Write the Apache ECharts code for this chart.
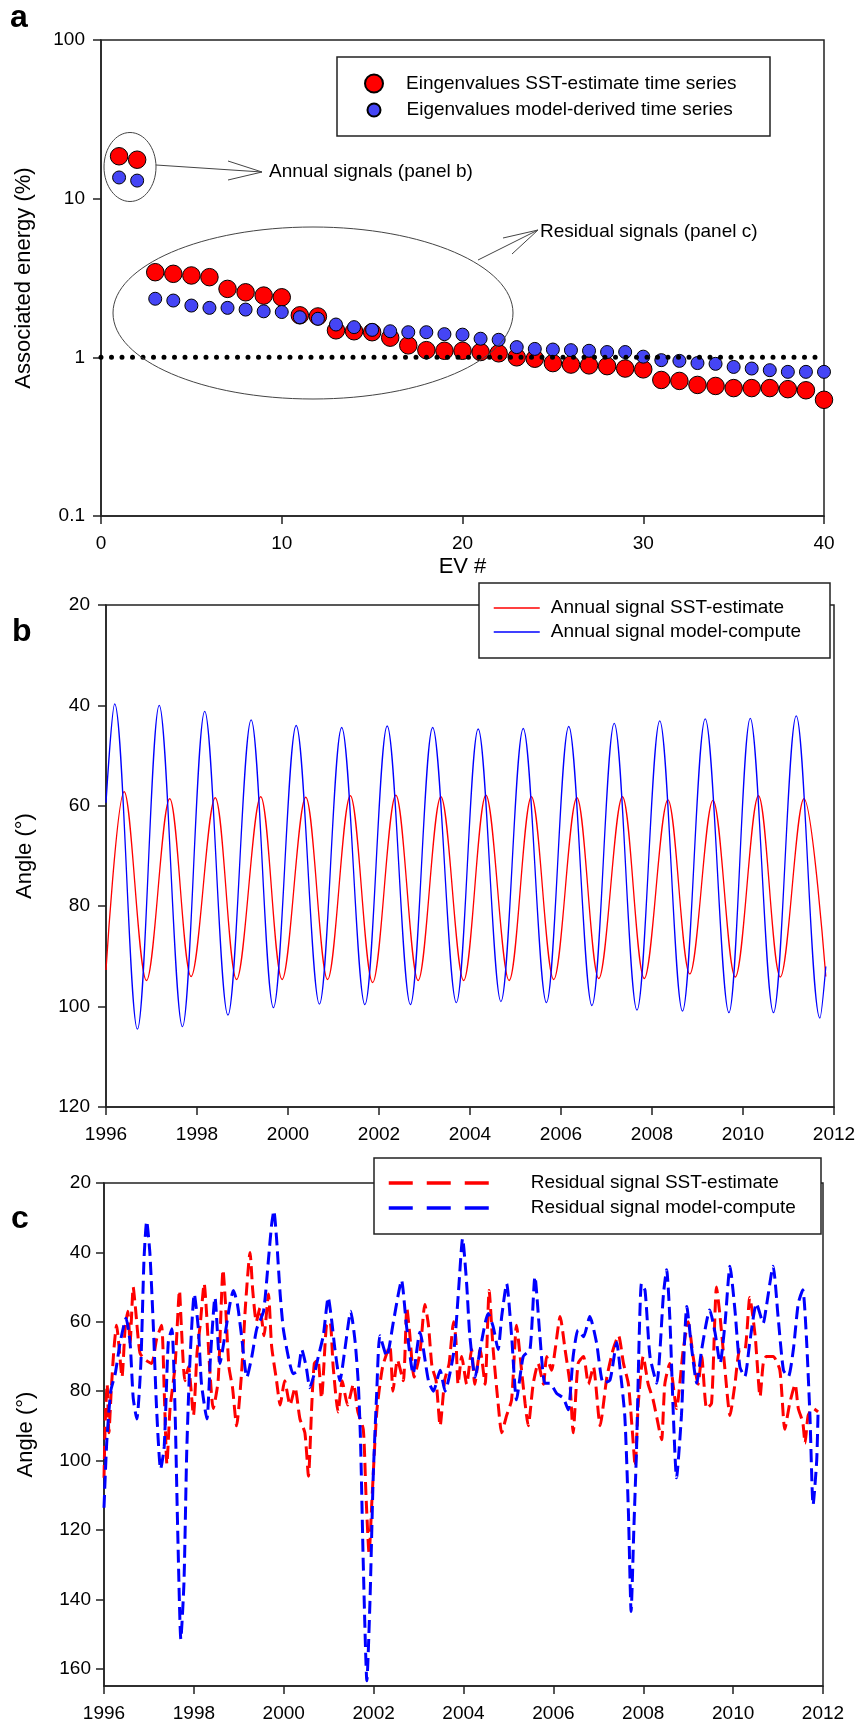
<!DOCTYPE html>
<html>
<head>
<meta charset="utf-8">
<title>Eigenvalues, annual and residual signals</title>
<script src="https://cdn.jsdelivr.net/npm/echarts@6.0.0/dist/echarts.min.js"></script>
<style>
  html, body { margin: 0; padding: 0; background: #fff; }
  #chart { width: 860px; height: 1726px; }
</style>
</head>
<body>
<div id="chart"></div>
<script>
// ---- panel a : eigenvalues (associated energy, %) ----
var evNumber = [1, 2, 3, 4, 5, 6, 7, 8, 9, 10, 11, 12, 13, 14, 15, 16, 17, 18, 19, 20,
  21, 22, 23, 24, 25, 26, 27, 28, 29, 30, 31, 32, 33, 34, 35, 36, 37, 38, 39, 40];
var sstEigen = [18.5, 17.6, 3.44, 3.36, 3.28, 3.2, 2.7, 2.57, 2.45, 2.39, 1.84, 1.81, 1.48, 1.46, 1.44,
  1.33, 1.19, 1.11, 1.1, 1.1, 1.08, 1.06, 1.0, 0.98, 0.92, 0.9, 0.89, 0.88, 0.85, 0.84,
  0.72, 0.71, 0.67, 0.66, 0.64, 0.64, 0.64, 0.63, 0.62, 0.54];
var modelEigen = [13.6, 13.0, 2.34, 2.28, 2.12, 2.05, 2.05, 2.0, 1.95, 1.93, 1.79, 1.75, 1.61, 1.55, 1.49,
  1.46, 1.44, 1.44, 1.4, 1.39, 1.31, 1.29, 1.16, 1.13, 1.12, 1.11, 1.1, 1.08, 1.08, 1.01,
  0.96, 0.95, 0.92, 0.91, 0.87, 0.85, 0.83, 0.81, 0.81, 0.81];
var unitLevel = [[0, 1], [40, 1]];

// ---- panel b : annual signals, turning points [year, angle] ----
var sstAnnual = [[1996.0, 92.7], [1996.40, 57.2], [1996.89, 94.8], [1997.40, 58.6], [1997.87, 94.0],
  [1998.40, 58.4], [1998.87, 94.6], [1999.40, 58.2], [1999.87, 94.6], [2000.39, 58.3], [2000.87, 94.6],
  [2001.37, 58.0], [2001.86, 95.2], [2002.37, 57.9], [2002.86, 94.8], [2003.36, 58.2], [2003.86, 94.8],
  [2004.35, 57.9], [2004.86, 94.8], [2005.35, 58.2], [2005.84, 94.6], [2006.35, 58.4], [2006.83, 94.4],
  [2007.35, 58.2], [2007.83, 94.4], [2008.35, 58.8], [2008.83, 93.5], [2009.34, 58.9], [2009.83, 94.1],
  [2010.34, 58.0], [2010.82, 94.1], [2011.34, 58.6], [2011.82, 94.0]];
var modelAnnual = [[1996.0, 59.4], [1996.19, 39.7], [1996.69, 104.5], [1997.17, 40.0], [1997.68, 104.0],
  [1998.17, 41.2], [1998.68, 101.7], [1999.19, 42.9], [1999.68, 100.2], [2000.18, 44.0], [2000.69, 99.5],
  [2001.18, 44.4], [2001.69, 99.6], [2002.18, 44.1], [2002.69, 99.6], [2003.18, 44.4], [2003.70, 99.2],
  [2004.18, 44.7], [2004.68, 99.0], [2005.17, 44.6], [2005.68, 99.2], [2006.17, 44.2], [2006.68, 99.8],
  [2007.17, 43.6], [2007.67, 100.7], [2008.17, 43.1], [2008.67, 100.9], [2009.17, 42.7], [2009.69, 101.2],
  [2010.16, 42.6], [2010.67, 101.2], [2011.17, 42.1], [2011.69, 102.3], [2011.82, 92.0]];

// ---- panel c : residual signals [year, angle] ----
var sstResidual = [[1996.00, 105], [1996.03, 88], [1996.07, 78], [1996.11, 92], [1996.16, 80], [1996.22, 68],
  [1996.28, 61], [1996.34, 68], [1996.40, 76], [1996.47, 62], [1996.53, 57], [1996.58, 66], [1996.65, 50],
  [1996.70, 56], [1996.80, 69], [1996.92, 71], [1997.06, 72], [1997.17, 65], [1997.28, 61], [1997.34, 80],
  [1997.40, 101], [1997.47, 85], [1997.58, 73], [1997.68, 51], [1997.72, 61], [1997.80, 77], [1997.88, 73],
  [1997.99, 87], [1998.07, 69], [1998.14, 61], [1998.23, 49], [1998.28, 57], [1998.35, 73], [1998.43, 85],
  [1998.54, 77], [1998.65, 45], [1998.70, 54], [1998.78, 73], [1998.86, 79], [1998.95, 90], [1999.06, 75],
  [1999.15, 55], [1999.25, 40], [1999.31, 51], [1999.39, 60], [1999.47, 56], [1999.56, 64], [1999.66, 52],
  [1999.73, 67], [1999.84, 77], [1999.92, 84], [2000.02, 77], [2000.14, 84], [2000.25, 79], [2000.36, 88],
  [2000.47, 92], [2000.55, 104.5], [2000.62, 85], [2000.68, 72], [2000.76, 71], [2000.84, 82], [2000.95, 61],
  [2001.03, 60], [2001.10, 73], [2001.21, 86], [2001.30, 77], [2001.42, 84], [2001.55, 78], [2001.65, 86],
  [2001.77, 91], [2001.83, 110], [2001.90, 127], [2001.96, 112], [2002.07, 86], [2002.20, 73], [2002.36, 67],
  [2002.43, 80], [2002.53, 71], [2002.66, 77], [2002.74, 56], [2002.80, 63], [2002.90, 76], [2003.03, 69],
  [2003.14, 55], [2003.22, 61], [2003.30, 73], [2003.39, 77], [2003.48, 90], [2003.58, 77], [2003.68, 72],
  [2003.78, 60], [2003.83, 65], [2003.88, 78], [2003.96, 70], [2004.07, 78], [2004.18, 68], [2004.25, 78],
  [2004.37, 68], [2004.48, 78], [2004.57, 51], [2004.66, 68], [2004.77, 83.5], [2004.85, 92], [2004.96, 87],
  [2005.07, 82.5], [2005.18, 61], [2005.26, 70], [2005.37, 83.5], [2005.44, 90], [2005.55, 78], [2005.66, 72],
  [2005.78, 78], [2005.85, 70], [2005.96, 74], [2006.04, 68], [2006.15, 58.5], [2006.26, 68], [2006.37, 78],
  [2006.44, 92], [2006.55, 72], [2006.67, 70], [2006.78, 78], [2006.89, 73], [2007.04, 90], [2007.19, 76],
  [2007.33, 68], [2007.45, 64], [2007.56, 72], [2007.67, 78], [2007.76, 92], [2007.82, 101.7], [2007.89, 83.5],
  [2008.00, 70], [2008.11, 78], [2008.22, 82.5], [2008.37, 92], [2008.41, 94], [2008.48, 78], [2008.59, 72],
  [2008.74, 85], [2008.89, 68], [2009.00, 60], [2009.11, 70], [2009.22, 78], [2009.30, 70], [2009.41, 85],
  [2009.52, 83.5], [2009.63, 50], [2009.71, 58.5], [2009.82, 74], [2009.93, 87], [2010.04, 78], [2010.15, 68],
  [2010.26, 68], [2010.37, 53], [2010.49, 64], [2010.60, 81.6], [2010.67, 72], [2010.74, 70], [2010.89, 70],
  [2011.04, 74], [2011.15, 91], [2011.26, 83.5], [2011.38, 78], [2011.45, 85], [2011.55, 89], [2011.60, 95],
  [2011.67, 87], [2011.78, 85], [2011.89, 86]];
var modelResidual = [[1996.00, 113.6], [1996.06, 95], [1996.15, 80], [1996.25, 75], [1996.36, 66], [1996.49, 59],
  [1996.58, 66], [1996.65, 82], [1996.73, 88], [1996.82, 72], [1996.89, 42], [1996.95, 31], [1997.02, 40],
  [1997.10, 62], [1997.17, 85], [1997.26, 102.5], [1997.34, 96], [1997.43, 66], [1997.51, 62], [1997.58, 85],
  [1997.64, 120], [1997.71, 151.5], [1997.78, 135], [1997.84, 98], [1997.91, 72], [1998.01, 52], [1998.10, 62],
  [1998.17, 78], [1998.29, 88], [1998.37, 70], [1998.47, 53], [1998.58, 72], [1998.69, 64], [1998.80, 55],
  [1998.88, 51], [1998.97, 55], [1999.06, 64], [1999.18, 76], [1999.29, 70], [1999.40, 62], [1999.55, 57],
  [1999.66, 42], [1999.73, 32], [1999.78, 28], [1999.84, 36], [1999.92, 52], [1999.99, 62], [2000.10, 70],
  [2000.21, 75], [2000.32, 74], [2000.40, 68], [2000.50, 73], [2000.58, 79], [2000.68, 75], [2000.77, 70],
  [2000.88, 64], [2000.99, 53], [2001.07, 60], [2001.14, 68], [2001.25, 77], [2001.36, 68], [2001.49, 57],
  [2001.59, 66], [2001.66, 78], [2001.71, 95], [2001.77, 130], [2001.85, 163.5], [2001.92, 140], [2001.99, 105],
  [2002.07, 80], [2002.14, 64], [2002.29, 70], [2002.44, 60], [2002.55, 52], [2002.62, 48], [2002.73, 61],
  [2002.88, 75], [2003.03, 63], [2003.22, 77], [2003.33, 80], [2003.48, 74], [2003.59, 80], [2003.78, 69],
  [2003.89, 51], [2003.98, 36], [2004.07, 49], [2004.14, 64], [2004.26, 76], [2004.37, 68], [2004.55, 57.6],
  [2004.66, 61.4], [2004.77, 68], [2004.85, 58.5], [2004.96, 49], [2005.07, 64], [2005.18, 82.5], [2005.33, 70],
  [2005.48, 68], [2005.59, 47], [2005.70, 64], [2005.81, 77.7], [2005.92, 77.7], [2006.07, 80.6], [2006.22, 82],
  [2006.33, 85.4], [2006.44, 70], [2006.55, 62.4], [2006.67, 64.3], [2006.81, 58.5], [2006.96, 66], [2007.11, 77.7],
  [2007.26, 76.8], [2007.41, 66], [2007.48, 73], [2007.59, 87.3], [2007.67, 115], [2007.73, 143.5], [2007.79, 120],
  [2007.85, 97], [2007.96, 49], [2008.04, 51], [2008.15, 70], [2008.30, 77.7], [2008.45, 52], [2008.52, 45],
  [2008.59, 58.5], [2008.67, 87], [2008.74, 105], [2008.85, 87], [2008.97, 55.6], [2009.08, 68], [2009.19, 77.7],
  [2009.30, 68], [2009.48, 56.6], [2009.60, 63.3], [2009.71, 72], [2009.82, 60.4], [2009.93, 44], [2010.04, 56.6],
  [2010.15, 73], [2010.26, 75.8], [2010.37, 66], [2010.52, 54.7], [2010.67, 60.4], [2010.74, 55.6], [2010.89, 44],
  [2011.00, 58.5], [2011.12, 74], [2011.23, 75.8], [2011.34, 68], [2011.45, 54.7], [2011.55, 50.8], [2011.63, 64.3],
  [2011.71, 87.3], [2011.78, 112.8], [2011.86, 100], [2011.89, 86]];

var angleTicksC = [20, 40, 60, 80, 100, 120, 140, 160];

var FONT = "'Liberation Sans', Arial, sans-serif";

function pairs(xs, ys) {
  var out = [];
  for (var i = 0; i < xs.length; i++) {
    out.push([xs[i], ys[i]]);
  }
  return out;
}

function yearLabel(v) {
  return String(v);
}

// shared axis look
var axisLineStyle = { show: true, onZero: false, lineStyle: { color: "#222", width: 1.5 } };
var tickStyle = { show: true, inside: false, length: 8, lineStyle: { color: "#222", width: 1.5 } };
var labelStyle = { color: "#000", fontSize: 19, fontFamily: FONT };
var nameStyle = { color: "#000", fontSize: 22, fontFamily: FONT };
var gridLook = { show: true, borderColor: "#222", borderWidth: 1.5, backgroundColor: "transparent" };
// line legends: no marker in the middle of the line
var noMarker = { opacity: 0, borderWidth: 0 };

var chart = echarts.init(document.getElementById("chart"));

var option = {
  animation: false,
  backgroundColor: "#fff",
  grid: [
    Object.assign({ left: 101, right: 36, top: 40, height: 476 }, gridLook),
    Object.assign({ left: 106, right: 26, top: 605, height: 502 }, gridLook),
    Object.assign({ left: 104, right: 37, top: 1183, height: 503 }, gridLook)
  ],
  xAxis: [
    {
      gridIndex: 0, type: "value", min: 0, max: 40, interval: 10,
      axisLine: axisLineStyle, axisTick: tickStyle,
      axisLabel: Object.assign({ margin: 18 }, labelStyle),
      splitLine: { show: false },
      name: "EV #", nameLocation: "middle", nameGap: 40, nameTextStyle: nameStyle
    },
    {
      gridIndex: 1, type: "value", min: 1996, max: 2012, interval: 2,
      axisLine: axisLineStyle, axisTick: tickStyle,
      axisLabel: Object.assign({ margin: 18, formatter: yearLabel }, labelStyle),
      splitLine: { show: false }
    },
    {
      gridIndex: 2, type: "value", min: 1996, max: 2012, interval: 2,
      axisLine: axisLineStyle, axisTick: tickStyle,
      axisLabel: Object.assign({ margin: 18, formatter: yearLabel }, labelStyle),
      splitLine: { show: false }
    }
  ],
  yAxis: [
    {
      gridIndex: 0, type: "log", logBase: 10, min: 0.1, max: 100,
      axisLine: axisLineStyle, axisTick: tickStyle,
      axisLabel: Object.assign({ margin: 16 }, labelStyle),
      splitLine: { show: false }, minorTick: { show: false },
      name: "Associated energy (%)", nameLocation: "middle", nameGap: 66, nameTextStyle: nameStyle
    },
    {
      gridIndex: 1, type: "value", inverse: true, min: 20, max: 120, interval: 20,
      axisLine: axisLineStyle, axisTick: tickStyle,
      axisLabel: Object.assign({ margin: 16 }, labelStyle),
      splitLine: { show: false },
      name: "Angle (°)", nameLocation: "middle", nameGap: 70, nameTextStyle: nameStyle
    },
    {
      gridIndex: 2, type: "value", inverse: true, min: 20, max: 165,
      axisLine: axisLineStyle,
      axisTick: Object.assign({ customValues: angleTicksC }, tickStyle),
      axisLabel: Object.assign({ margin: 13, customValues: angleTicksC }, labelStyle),
      splitLine: { show: false },
      name: "Angle (°)", nameLocation: "middle", nameGap: 67, nameTextStyle: nameStyle
    }
  ],
  legend: [
    {
      data: ["Eingenvalues SST-estimate time series"],
      left: 364, top: 73.5, padding: 0, icon: "circle", itemWidth: 18, itemHeight: 18,
      textStyle: { color: "#000", fontSize: 19, fontFamily: FONT, padding: [0, 0, 0, 18] },
      selectedMode: false, z: 10
    },
    {
      data: ["Eigenvalues model-derived time series"],
      left: 366.5, top: 100.5, padding: 0, icon: "circle", itemWidth: 13, itemHeight: 13,
      textStyle: { color: "#000", fontSize: 19, fontFamily: FONT, padding: [0, 0, 0, 21] },
      selectedMode: false, z: 10
    },
    {
      data: ["Annual signal SST-estimate", "Annual signal model-compute"],
      orient: "vertical", left: 493, top: 598.5, padding: 0, itemGap: 5,
      itemWidth: 46, itemHeight: 14,
      itemStyle: noMarker,
      lineStyle: { width: 1.5 },
      textStyle: { color: "#000", fontSize: 19, fontFamily: FONT, padding: [0, 0, 0, 6] },
      selectedMode: false, z: 10
    },
    {
      data: ["Residual signal SST-estimate", "Residual signal model-compute"],
      orient: "vertical", left: 387, top: 1173.5, padding: 0, itemGap: 6,
      itemWidth: 103, itemHeight: 14,
      itemStyle: noMarker,
      lineStyle: { type: [24, 14], width: 3.5 },
      textStyle: { color: "#000", fontSize: 19, fontFamily: FONT, padding: [0, 0, 0, 34] },
      selectedMode: false, z: 10
    }
  ],
  series: [
    {
      name: "Eingenvalues SST-estimate time series",
      type: "scatter", xAxisIndex: 0, yAxisIndex: 0,
      data: pairs(evNumber, sstEigen),
      symbol: "circle", symbolSize: 17.5,
      itemStyle: { color: "#ff0000", borderColor: "#000", borderWidth: 1, opacity: 1 },
      z: 3
    },
    {
      name: "Eigenvalues model-derived time series",
      type: "scatter", xAxisIndex: 0, yAxisIndex: 0,
      data: pairs(evNumber, modelEigen),
      symbol: "circle", symbolSize: 13,
      itemStyle: { color: "#4545f5", borderColor: "#000", borderWidth: 1, opacity: 1 },
      z: 4
    },
    {
      // dotted 1 % level
      name: "unit", type: "line", xAxisIndex: 0, yAxisIndex: 0,
      data: unitLevel, symbol: "none", silent: true,
      lineStyle: { color: "#000", width: 5, type: [0, 10.5], cap: "round" },
      z: 5
    },
    {
      name: "Annual signal SST-estimate",
      type: "line", xAxisIndex: 1, yAxisIndex: 1,
      data: sstAnnual, symbol: "none", smooth: 0.35,
      lineStyle: { color: "#ff0000", width: 1.3 },
      itemStyle: { color: "#ff0000" }
    },
    {
      name: "Annual signal model-compute",
      type: "line", xAxisIndex: 1, yAxisIndex: 1,
      data: modelAnnual, symbol: "none", smooth: 0.35,
      lineStyle: { color: "#0000ff", width: 1.3 },
      itemStyle: { color: "#0000ff" }
    },
    {
      name: "Residual signal SST-estimate",
      type: "line", xAxisIndex: 2, yAxisIndex: 2,
      data: sstResidual, symbol: "none", smooth: 0.2,
      lineStyle: { color: "#ff0000", width: 3, type: [13, 6] },
      itemStyle: { color: "#ff0000" }
    },
    {
      name: "Residual signal model-compute",
      type: "line", xAxisIndex: 2, yAxisIndex: 2,
      data: modelResidual, symbol: "none", smooth: 0.2,
      lineStyle: { color: "#0000ff", width: 3, type: [13, 6] },
      itemStyle: { color: "#0000ff" }
    }
  ],
  graphic: [
    // panel letters
    { type: "text", left: 10, top: 2, style: { text: "a", fontSize: 32, fontWeight: "bold", fontFamily: FONT, fill: "#000" } },
    { type: "text", left: 12, top: 616, style: { text: "b", fontSize: 32, fontWeight: "bold", fontFamily: FONT, fill: "#000" } },
    { type: "text", left: 11, top: 1203, style: { text: "c", fontSize: 32, fontWeight: "bold", fontFamily: FONT, fill: "#000" } },
    // annotations on panel a
    { type: "ellipse", shape: { cx: 130, cy: 167, rx: 26, ry: 34.5 }, style: { fill: null, stroke: "#444", lineWidth: 1 }, z: 6 },
    { type: "ellipse", shape: { cx: 313, cy: 313, rx: 200, ry: 86 }, style: { fill: null, stroke: "#444", lineWidth: 1 }, z: 6 },
    { type: "line", shape: { x1: 156, y1: 165, x2: 262, y2: 172 }, style: { stroke: "#444", lineWidth: 1 }, z: 6 },
    { type: "polyline", shape: { points: [[228, 161], [262, 172], [228, 180]] }, style: { fill: null, stroke: "#444", lineWidth: 1 }, z: 6 },
    { type: "text", x: 269, y: 172, style: { text: "Annual signals (panel b)", fontSize: 19, fontFamily: FONT, fill: "#000", verticalAlign: "middle" }, z: 6 },
    { type: "line", shape: { x1: 478, y1: 260, x2: 538, y2: 230 }, style: { stroke: "#444", lineWidth: 1 }, z: 6 },
    { type: "polyline", shape: { points: [[503, 238], [538, 230], [512, 254]] }, style: { fill: null, stroke: "#444", lineWidth: 1 }, z: 6 },
    { type: "text", x: 540, y: 232, style: { text: "Residual signals (panel c)", fontSize: 19, fontFamily: FONT, fill: "#000", verticalAlign: "middle" }, z: 6 },
    // legend boxes
    { type: "rect", shape: { x: 337, y: 57, width: 433, height: 79 }, style: { fill: "#fff", stroke: "#222", lineWidth: 1.5 }, z: 3 },
    { type: "rect", shape: { x: 479, y: 583, width: 351, height: 75 }, style: { fill: "#fff", stroke: "#222", lineWidth: 1.5 }, z: 3 },
    { type: "rect", shape: { x: 374, y: 1158, width: 447, height: 76 }, style: { fill: "#fff", stroke: "#222", lineWidth: 1.5 }, z: 3 }
  ]
};

chart.setOption(option);
</script>
</body>
</html>
